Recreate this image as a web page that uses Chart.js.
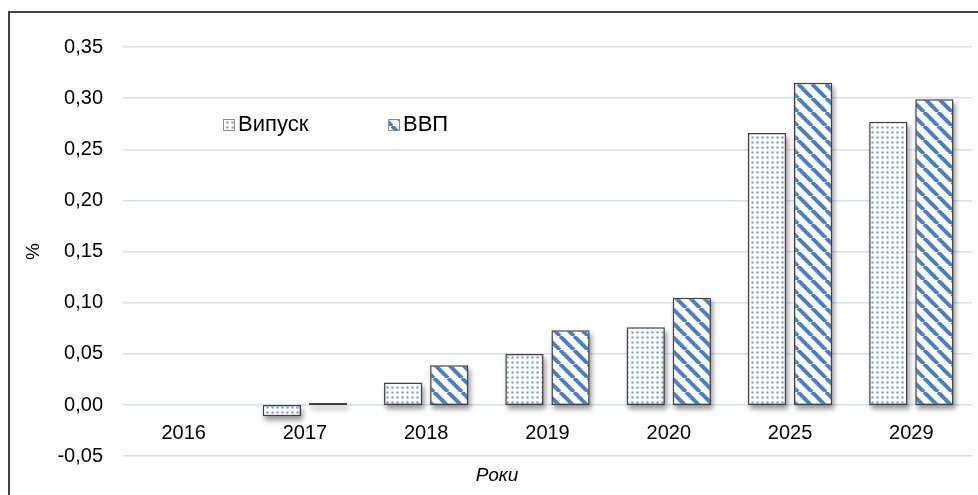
<!DOCTYPE html>
<html>
<head>
<meta charset="utf-8">
<script src="https://cdn.jsdelivr.net/npm/chart.js@4/dist/chart.umd.min.js"></script>
<style>
  body { margin: 0; background: #fff; }
  #wrap { width: 978px; height: 495px; }
</style>
</head>
<body>
<div id="wrap"><canvas id="myChart" width="978" height="495"></canvas></div>
<script>
// chart data
const years = ['2016', '2017', '2018', '2019', '2020', '2025', '2029'];
const vypusk = [0, -0.011, 0.022, 0.050, 0.076, 0.266, 0.277];
const vvp = [0, 0.002, 0.039, 0.073, 0.105, 0.315, 0.299];
const seriesNames = ['Випуск', 'ВВП'];
const yMin = -0.05;
const yMax = 0.35;
const yStep = 0.05;

const FONT = "'Liberation Sans', Arial, sans-serif";

// dotted fill
function makeDots() {
    const c = document.createElement('canvas');
    c.width = 5; c.height = 5;
    const g = c.getContext('2d');
    g.fillStyle = '#fff';
    g.fillRect(0, 0, 5, 5);
    g.fillStyle = '#7aa3dc';
    g.beginPath();
    g.arc(2.5, 2.5, 1.2, 0, Math.PI * 2);
    g.fill();
    return g.createPattern(c, 'repeat');
}

// diagonal stripes "\"
function makeStripes() {
    const s = 14;
    const c = document.createElement('canvas');
    c.width = s; c.height = s;
    const g = c.getContext('2d');
    g.fillStyle = '#fff';
    g.fillRect(0, 0, s, s);
    g.strokeStyle = '#4a7fc3';
    g.lineWidth = 4;
    for (let k = -1; k <= 1; k++) {
        g.beginPath();
        g.moveTo(k * s, 0);
        g.lineTo(k * s + s, s);
        g.stroke();
    }
    return g.createPattern(c, 'repeat');
}

const dots = makeDots();
const stripes = makeStripes();

function fmt(v) {
    if (Math.abs(v) < 1e-9) v = 0;
    return v.toFixed(2).replace('.', ',');
}

// frame around the chart
const framePlugin = {
    id: 'frame',
    beforeDraw(chart) {
        const ctx = chart.ctx;
        ctx.save();
        ctx.strokeStyle = '#404040';
        ctx.lineWidth = 2;
        ctx.strokeRect(9, 12, 1000, 1000);
        ctx.restore();
    }
};

// soft shadow under bars, taken from the bar elements
const shadowPlugin = {
    id: 'barShadow',
    beforeDatasetsDraw(chart) {
        const ctx = chart.ctx;
        ctx.save();
        ctx.filter = 'blur(2.5px)';
        ctx.fillStyle = 'rgba(0,0,0,0.4)';
        chart.data.datasets.forEach((ds, i) => {
            chart.getDatasetMeta(i).data.forEach(bar => {
                const p = bar.getProps(['x', 'y', 'base', 'width'], true);
                const h = Math.abs(p.base - p.y);
                if (h < 0.5) return;
                ctx.fillRect(p.x - p.width / 2 + 2, Math.min(p.y, p.base) + 4, p.width, h);
            });
        });
        ctx.restore();
    }
};

// legend inside the plot
const legendPlugin = {
    id: 'innerLegend',
    afterDatasetsDraw(chart) {
        const ctx = chart.ctx;
        const pos = [[223, 119], [388, 119]];
        ctx.save();
        chart.data.datasets.forEach((ds, i) => {
            const [x, y] = pos[i];
            ctx.fillStyle = ds.backgroundColor;
            ctx.fillRect(x, y, 12, 12);
            ctx.strokeStyle = '#8a8a8a';
            ctx.lineWidth = 1;
            ctx.strokeRect(x + 0.5, y + 0.5, 11, 11);
            ctx.fillStyle = '#000';
            ctx.font = '22px ' + FONT;
            ctx.textBaseline = 'middle';
            ctx.fillText(ds.label, x + 15, y + 6);
        });
        ctx.restore();
    }
};

const ctx = document.getElementById('myChart').getContext('2d');
const myChart = new Chart(ctx, {
    type: 'bar',
    data: {
        labels: years,
        datasets: [
            {
                label: seriesNames[0],
                data: vypusk,
                backgroundColor: dots,
                borderColor: '#404040',
                borderWidth: 1.5,
                borderSkipped: false
            },
            {
                label: seriesNames[1],
                data: vvp,
                backgroundColor: stripes,
                borderColor: '#404040',
                borderWidth: 1.5,
                borderSkipped: false
            }
        ]
    },
    options: {
        responsive: false,
        animation: false,
        categoryPercentage: 0.76,
        barPercentage: 0.83,
        layout: { padding: { left: 22, right: 6, top: 47, bottom: 6 } },
        plugins: {
            legend: { display: false },
            tooltip: { enabled: false },
            title: {
                display: true,
                position: 'bottom',
                text: 'Роки',
                color: '#000',
                font: { family: FONT, size: 19, style: 'italic', weight: 'normal' },
                padding: { top: 8, bottom: 2 }
            }
        },
        scales: {
            x: {
                position: { y: 0 },
                grid: { display: false, drawTicks: false },
                border: { display: false },
                ticks: {
                    color: '#000',
                    padding: 16,
                    font: { family: FONT, size: 20 }
                }
            },
            y: {
                min: yMin,
                max: yMax,
                ticks: {
                    stepSize: yStep,
                    color: '#000',
                    padding: 20,
                    font: { family: FONT, size: 20 },
                    callback: (v) => fmt(v)
                },
                grid: { color: '#d3e1f3', lineWidth: 1.5, drawTicks: false },
                border: { display: false },
                title: {
                    display: true,
                    text: '%',
                    color: '#000',
                    font: { family: FONT, size: 19 },
                    padding: 0
                },
                afterFit(scale) {
                    scale.width = 101;
                }
            }
        }
    },
    plugins: [framePlugin, shadowPlugin, legendPlugin]
});
</script>
</body>
</html>
